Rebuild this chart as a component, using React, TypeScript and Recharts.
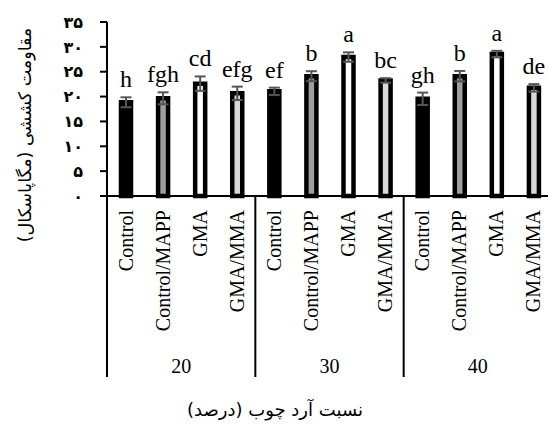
import React from "react"
import { BarChart, Bar, Cell, XAxis, YAxis, ErrorBar, LabelList } from "recharts"

// nesbat-e ard-e chub (%) x treatment
const groups = ["20", "30", "40"]
const treatments = ["Control", "Control/MAPP", "GMA", "GMA/MMA"]
const strength = [18.85, 19.65, 22.6, 20.65, 21.05, 24.1, 27.95, 23.25, 19.55, 24.1, 28.55, 21.75]
const errors = [1.0, 1.2, 1.45, 1.35, 0.75, 1.0, 0.95, 0.45, 1.25, 1.05, 0.65, 0.75]
const letters = ["h", "fgh", "cd", "efg", "ef", "b", "a", "bc", "gh", "b", "a", "de"]
const yTicks = [0, 5, 10, 15, 20, 25, 30, 35]

const fills = ["#000000", "#9e9e9e", "#ffffff", "#d9d9d9"]
const faDigits = "۰۱۲۳۴۵۶۷۸۹"
const toFa = (n: number) => String(n).replace(/\d/g, (d) => faDigits[+d])

const W = 560
const H = 426
const margin = { top: 22, right: 8, left: 47, bottom: 30 }
const yAxisW = 60
const halfBand = (W - margin.left - margin.right - yAxisW) / 12 / 2

const data = groups.flatMap((g, gi) =>
  treatments.map((t, ti) => {
    const i = gi * 4 + ti
    return {
      key: `${g}-${t}`,
      group: g,
      treatment: t,
      value: strength[i],
      err: errors[i],
      letter: letters[i],
    }
  })
)

const serif = "'Liberation Serif', 'Times New Roman', serif"
const farsi = "'DejaVu Sans', sans-serif"

function CategoryTick(props: any) {
  const { x, y, payload } = props
  const index = payload.index ?? props.index
  const row = data[index]
  const lineBottom = y + 181
  return (
    <g>
      <text
        transform={`translate(${x + 7},${y + 14}) rotate(-90)`}
        textAnchor="end"
        fontFamily={serif}
        fontSize={20}
        fill="#000"
      >
        {row.treatment}
      </text>
      {index % 4 === 0 && (
        <line x1={x - halfBand} x2={x - halfBand} y1={y} y2={lineBottom} stroke="#000" strokeWidth={2} />
      )}
      {index === data.length - 1 && (
        <line x1={x + halfBand} x2={x + halfBand} y1={y} y2={lineBottom} stroke="#000" strokeWidth={2} />
      )}
      {index % 4 === 1 && (
        <text x={x + halfBand} y={y + 177} textAnchor="middle" fontFamily={serif} fontSize={20} fill="#000">
          {row.group}
        </text>
      )}
    </g>
  )
}

function LetterLabel(props: any) {
  const { x, y, width, height, index } = props
  const row = data[index]
  const pxPerUnit = height / row.value
  const top = y - row.err * pxPerUnit
  return (
    <text x={x + width / 2} y={top - 10} textAnchor="middle" fontFamily={serif} fontSize={24} fill="#000">
      {row.letter}
    </text>
  )
}

export default function App() {
  return (
    <div style={{ position: "absolute", left: 0, top: 0, width: 548, height: 426, overflow: "hidden", background: "#fff" }}>
      <BarChart width={W} height={H} data={data} margin={margin}>
        <XAxis
          dataKey="key"
          interval={0}
          height={200}
          tickSize={0}
          tickMargin={0}
          tickLine={false}
          axisLine={{ stroke: "#000", strokeWidth: 2 }}
          tick={<CategoryTick />}
          label={{
            content: () => (
              <text x={275} y={416} textAnchor="middle" fontFamily={farsi} fontSize={18} fill="#000">
                نسبت آرد چوب (درصد)
              </text>
            ),
          }}
        />
        <YAxis
          width={yAxisW}
          domain={[0, 35]}
          ticks={yTicks}
          interval={0}
          tickSize={7}
          tickMargin={17}
          tickFormatter={toFa}
          tick={{ fill: "#000", fontSize: 16, fontWeight: "bold", fontFamily: farsi }}
          axisLine={{ stroke: "#000", strokeWidth: 2 }}
          tickLine={{ stroke: "#000", strokeWidth: 2 }}
          label={{
            content: (p: any) => {
              const cy = p.viewBox.y + p.viewBox.height / 2 + 26
              return (
                <text
                  transform={`translate(31,${cy}) rotate(-90)`}
                  textAnchor="middle"
                  fontFamily={farsi}
                  fontSize={17.5}
                  fill="#000"
                >
                  مقاومت کششی (مگاپاسکال)
                </text>
              )
            },
          }}
        />
        <Bar dataKey="value" barSize={10} stroke="#000" strokeWidth={4.5} isAnimationActive={false}>
          {data.map((d, i) => (
            <Cell key={d.key} fill={fills[i % 4]} />
          ))}
          <ErrorBar dataKey="err" width={5.5} stroke="#555" strokeWidth={2} isAnimationActive={false} />
          <LabelList dataKey="letter" content={<LetterLabel />} />
        </Bar>
      </BarChart>
    </div>
  )
}
